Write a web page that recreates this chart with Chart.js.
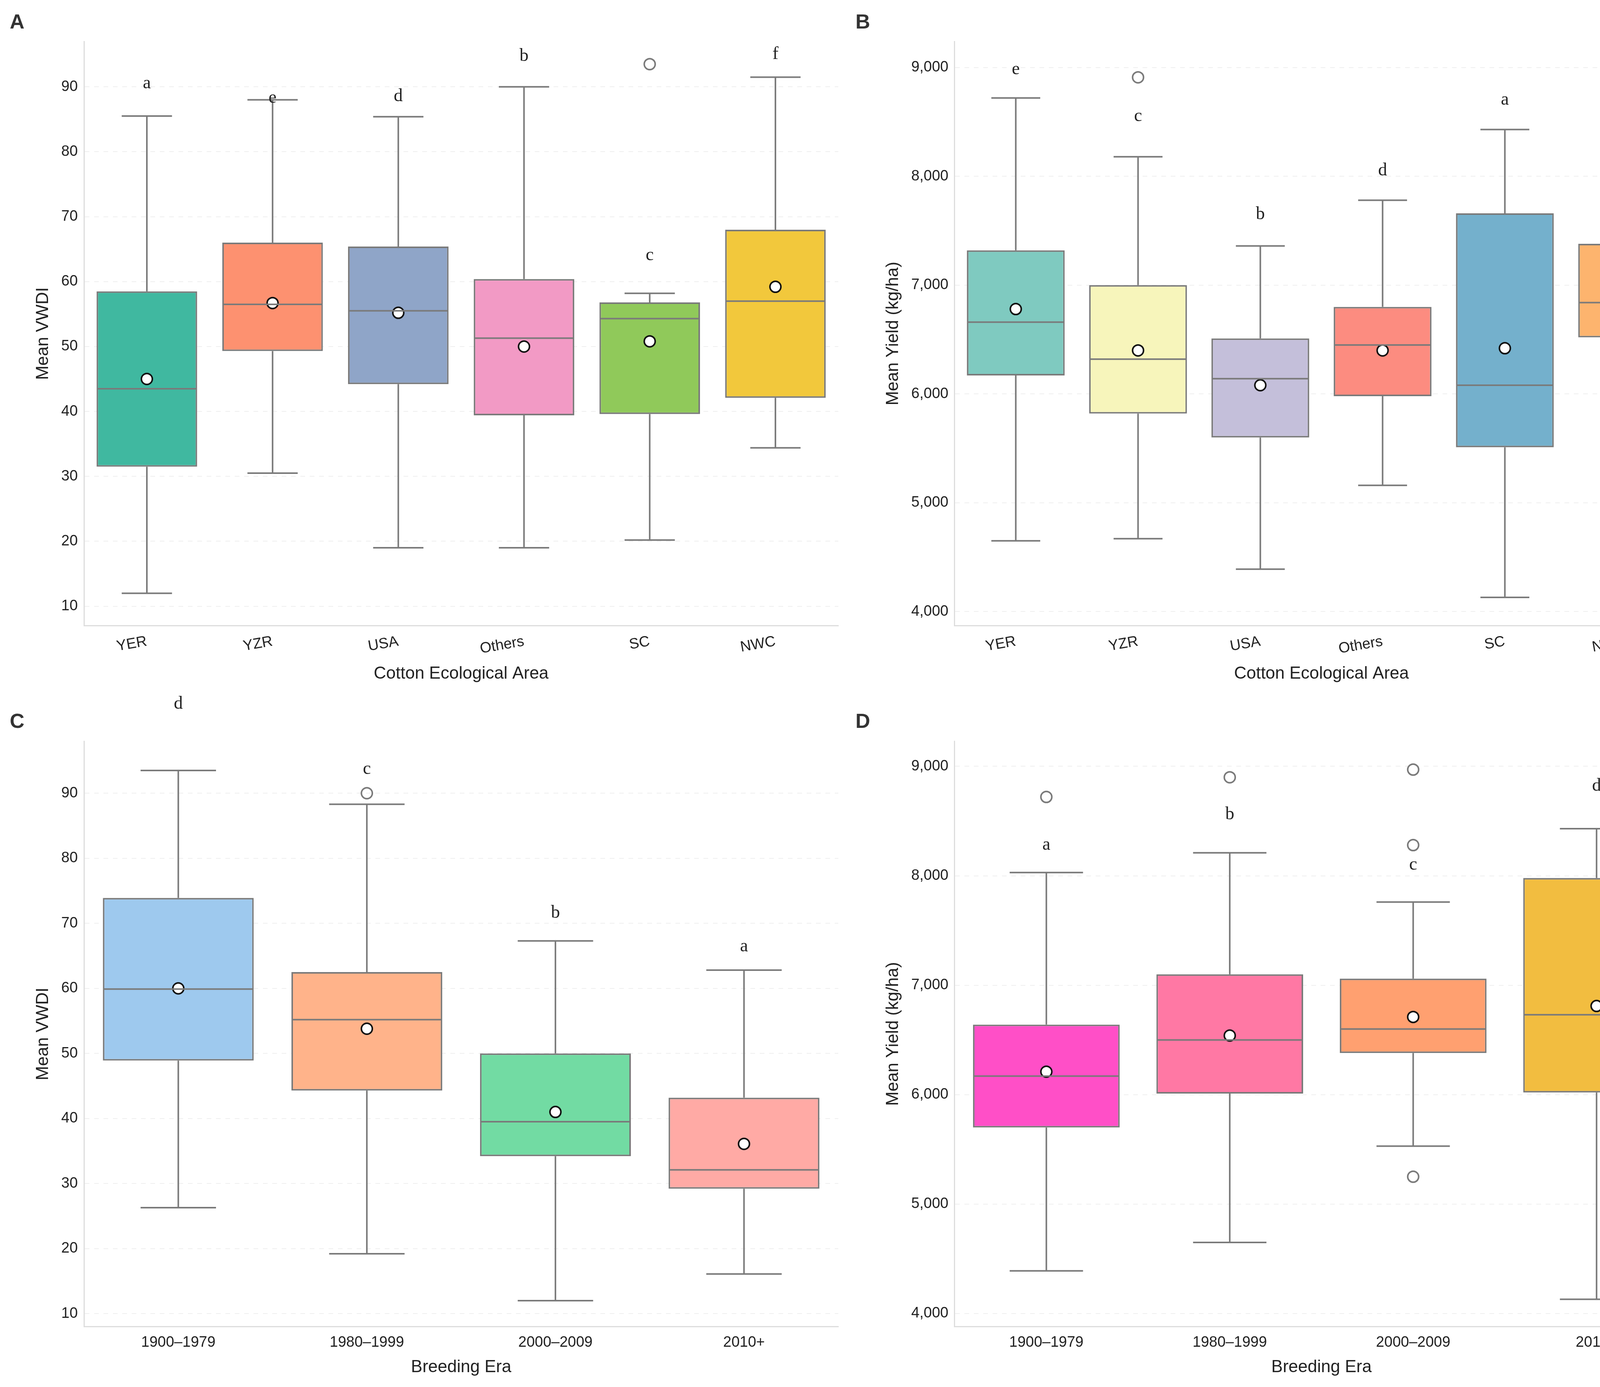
<!DOCTYPE html>
<html><head><meta charset="utf-8">
<script src="https://cdn.jsdelivr.net/npm/chart.js@4.4.1/dist/chart.umd.min.js"></script>
<style>
body{margin:0;background:#fff;width:4353px;height:3550px;position:relative;overflow:hidden}
.p{position:absolute;width:2176px;height:1775px}
.lt{position:absolute;font:bold 52px "Liberation Sans",Arial,sans-serif;color:#333}
</style></head><body>
<div class="p" style="left:0;top:0"><canvas id="cA" width="2176" height="1775"></canvas></div>
<div class="p" style="left:2176px;top:0"><canvas id="cB" width="2176" height="1775"></canvas></div>
<div class="p" style="left:0;top:1775px"><canvas id="cC" width="2176" height="1775"></canvas></div>
<div class="p" style="left:2176px;top:1775px"><canvas id="cD" width="2176" height="1775"></canvas></div>
<div class="lt" style="left:25px;top:25px">A</div>
<div class="lt" style="left:2190px;top:25px">B</div>
<div class="lt" style="left:25px;top:1815px">C</div>
<div class="lt" style="left:2190px;top:1815px">D</div>
<script>
// ---- data ----
const areas = ['YER','YZR','USA','Others','SC','NWC'];
const eras = ['1900–1979','1980–1999','2000–2009','2010+'];
const vwdiTicks=[10,20,30,40,50,60,70,80,90];
const yieldTicks=[4000,5000,6000,7000,8000,9000];

const aLow=[12,30.5,19,19,20.2,34.4], aQ1=[31.5,49.3,44.2,39.4,39.6,42.1], aMed=[43.5,56.5,55.5,51.3,54.3,57], aQ3=[58.5,66,65.4,60.4,56.8,68], aHigh=[85.5,88,85.4,90,58.2,91.5], aMean=[45,56.7,55.2,50,50.8,59.2];
const aOut=[[],[],[],[],[93.5],[]]; const aLet=['a','e','d','b','c','f']; const aLetY=[90.5,88.3,88.5,94.7,64,95];

const bLow=[4650,4670,4390,5160,4130,5220], bQ1=[6170,5820,5600,5980,5510,6520], bMed=[6660,6320,6140,6450,6080,6840], bQ3=[7320,7000,6510,6800,7660,7380], bHigh=[8720,8180,7360,7780,8430,7640], bMean=[6780,6400,6080,6400,6420,6900];
const bOut=[[],[8910],[],[],[],[8970]]; const bLet=['e','c','b','d','a','f']; const bLetY=[8980,8550,7650,8050,8700,7960];

const cLow=[26.3,19.2,12,16.1], cQ1=[48.9,44.3,34.2,29.2], cMed=[59.9,55.2,39.5,32.1], cQ3=[73.9,62.5,50,43.2], cHigh=[93.5,88.3,67.3,62.8], cMean=[60,53.8,41,36.1];
const cOut=[[],[90],[],[]]; const cLet=['d','c','b','a']; const cLetY=[103.7,93.7,71.6,66.4];

const dLow=[4390,4650,5530,4130], dQ1=[5700,6010,6380,6020], dMed=[6170,6500,6600,6730], dQ3=[6640,7100,7060,7980], dHigh=[8030,8210,7760,8430], dMean=[6210,6540,6710,6810];
const dOut=[[8720],[8900],[8970,8280,5250],[]]; const dLet=['a','b','c','d']; const dLetY=[8280,8560,8100,8820];

const colA=['#40b8a0','#fd9170','#8fa5c8','#f29ac5','#90c95a','#f2c83c'];
const colB=['#7fcac0','#f7f5bb','#c4bfda','#fc8c80','#74b0cc','#fdb46e'];
const colC=['#9ec9ee','#ffb38a','#72dba3','#ffaaa5'];
const colD=['#ff4fc7','#ff78a4','#ffa070','#f2bd40'];

const boxPlug={id:'box',afterDatasetsDraw(ch,a,o){
  const s=o.s; if(!s) return;
  const y=ch.scales.y, ctx=ch.ctx, bars=ch.getDatasetMeta(0).data;
  ctx.save();ctx.strokeStyle='#7a7a7a';ctx.lineWidth=4;
  bars.forEach((b,i)=>{
    const x=b.x,w=b.width,hw=w/4;
    const yl=y.getPixelForValue(s.low[i]),yh=y.getPixelForValue(s.high[i]);
    const q1=y.getPixelForValue(s.q1[i]),q3=y.getPixelForValue(s.q3[i]),m=y.getPixelForValue(s.med[i]);
    ctx.beginPath();
    ctx.moveTo(x,q1);ctx.lineTo(x,yl);ctx.moveTo(x-hw,yl);ctx.lineTo(x+hw,yl);
    ctx.moveTo(x,q3);ctx.lineTo(x,yh);ctx.moveTo(x-hw,yh);ctx.lineTo(x+hw,yh);
    ctx.moveTo(x-w/2+2,m);ctx.lineTo(x+w/2-2,m);ctx.stroke();
    ctx.fillStyle='#222';ctx.font='46px "Liberation Serif",serif';ctx.textAlign='center';ctx.textBaseline='middle';
    ctx.fillText(s.let[i],x,y.getPixelForValue(s.letY[i]));
  });
  ctx.restore();
}};
Chart.register(boxPlug);

function make(id,labels,s,cols,yMin,yMax,tickVals,ytitle,xtitle,rot,top){
  const outPts=[];s.out.forEach((arr,i)=>arr.forEach(v=>outPts.push({x:labels[i],y:v})));
  return new Chart(document.getElementById(id),{
    type:'bar',
    data:{labels,datasets:[
      {data:labels.map((l,i)=>[s.q1[i],s.q3[i]]),backgroundColor:cols,borderColor:'#7a7a7a',borderWidth:4,borderSkipped:false,barPercentage:0.8,categoryPercentage:1,order:3},
      {type:'line',data:labels.map((l,i)=>({x:l,y:s.mean[i]})),showLine:false,pointRadius:14,pointBackgroundColor:'#fff',pointBorderColor:'#111',pointBorderWidth:4,order:1},
      {type:'line',data:outPts,showLine:false,pointRadius:14,pointBackgroundColor:'rgba(0,0,0,0)',pointBorderColor:'#7a7a7a',pointBorderWidth:4,order:2}
    ]},
    options:{responsive:false,devicePixelRatio:1,animation:false,
      layout:{padding:{left:80,top:top,right:30,bottom:20}},
      plugins:{legend:{display:false},tooltip:{enabled:false},box:{s}},
      scales:{
        x:{grid:{display:false},border:{color:'#ddd',width:3},ticks:{color:'#222',font:{size:38,family:'"Liberation Sans",Arial'},minRotation:rot,maxRotation:rot,padding:10},
           title:{display:true,text:xtitle,color:'#222',font:{size:44,family:'"Liberation Sans",Arial'}}},
        y:{min:yMin,max:yMax,grid:{color:'#efefef',lineWidth:2,drawTicks:false},border:{color:'#ddd',width:3,dash:[12,12]},
           afterBuildTicks:ax=>{ax.ticks=tickVals.map(v=>({value:v}));},
           ticks:{color:'#222',font:{size:38,family:'"Liberation Sans",Arial'},padding:16},
           title:{display:true,text:ytitle,color:'#222',font:{size:44,family:'"Liberation Sans",Arial'}}}
      }}
  });
}
const A={low:aLow,q1:aQ1,med:aMed,q3:aQ3,high:aHigh,mean:aMean,out:aOut,let:aLet,letY:aLetY};
const B={low:bLow,q1:bQ1,med:bMed,q3:bQ3,high:bHigh,mean:bMean,out:bOut,let:bLet,letY:bLetY};
const C={low:cLow,q1:cQ1,med:cMed,q3:cQ3,high:cHigh,mean:cMean,out:cOut,let:cLet,letY:cLetY};
const D={low:dLow,q1:dQ1,med:dMed,q3:dQ3,high:dHigh,mean:dMean,out:dOut,let:dLet,letY:dLetY};
make('cA',areas,A,colA,7,97,vwdiTicks,'Mean VWDI','Cotton Ecological Area',10,106);
make('cB',areas,B,colB,3870,9240,yieldTicks,'Mean Yield (kg/ha)','Cotton Ecological Area',10,106);
make('cC',eras,C,colC,8,98,vwdiTicks,'Mean VWDI','Breeding Era',0,122);
make('cD',eras,D,colD,3880,9230,yieldTicks,'Mean Yield (kg/ha)','Breeding Era',0,122);
</script></body></html>
